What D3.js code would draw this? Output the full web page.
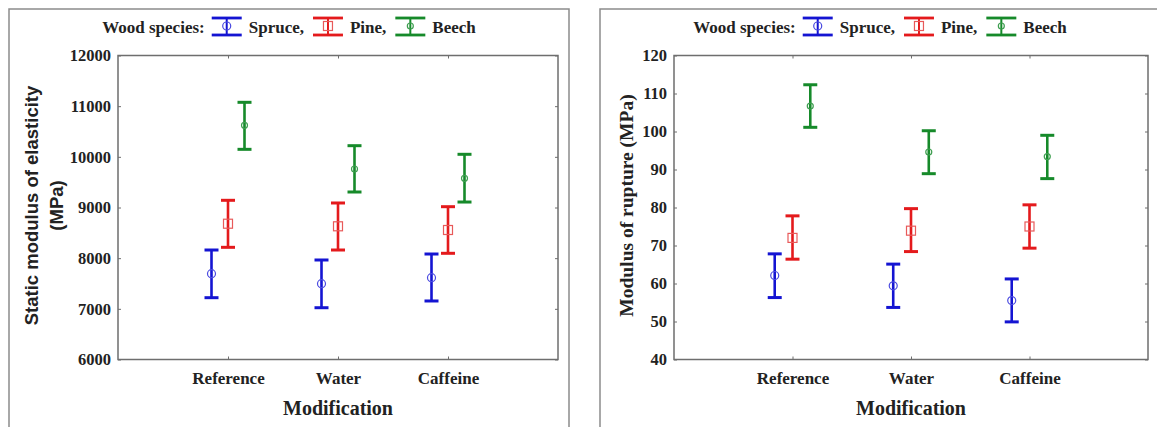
<!DOCTYPE html>
<html>
<head>
<meta charset="utf-8">
<script src="https://cdn.jsdelivr.net/npm/d3@7"></script>
<style>
  html, body { margin: 0; padding: 0; background: #fff; }
  svg { display: block; }
</style>
</head>
<body>
<svg id="chart" width="1157" height="427"></svg>
<script>
// Modification treatments and wood species
const categories = ["Reference", "Water", "Caffeine"];
const species = ["Spruce", "Pine", "Beech"];

// Static modulus of elasticity (MPa): mean and confidence limits
const moeMeanSpruce = [7693, 7496, 7615];
const moeMeanPine   = [8680, 8629, 8556];
const moeMeanBeech  = [10622, 9760, 9576];
const moeLowSpruce  = [7220, 7022, 7155];
const moeLowPine    = [8214, 8161, 8096];
const moeLowBeech   = [10148, 9306, 9108];
const moeHighSpruce = [8161, 7964, 8082];
const moeHighPine   = [9142, 9089, 9016];
const moeHighBeech  = [11076, 10220, 10050];
const moeTicks = [6000, 7000, 8000, 9000, 10000, 11000, 12000];

// Modulus of rupture (MPa): mean and confidence limits
const morMeanSpruce = [62.1, 59.4, 55.5];
const morMeanPine   = [72.0, 73.9, 75.0];
const morMeanBeech  = [106.7, 94.6, 93.4];
const morLowSpruce  = [56.3, 53.7, 49.9];
const morLowPine    = [66.4, 68.4, 69.3];
const morLowBeech   = [101.1, 88.9, 87.6];
const morHighSpruce = [67.8, 65.1, 61.2];
const morHighPine   = [77.8, 79.7, 80.7];
const morHighBeech  = [112.3, 100.2, 99.0];
const morTicks = [40, 50, 60, 70, 80, 90, 100, 110, 120];

const colors = { Spruce: "#1414d2", Pine: "#e41a1c", Beech: "#168a2a" };
const markerColors = { Spruce: "#4a4ae0", Pine: "#e85a5a", Beech: "#3e9e50" };
const offsets = { Spruce: -0.15, Pine: 0, Beech: 0.15 };

const serif = "'Palatino Linotype', 'Book Antiqua', Palatino, 'Liberation Serif', serif";
const sans = "'Liberation Sans', Arial, sans-serif";

function rows(means, lows, highs) {
  return species.flatMap((s, si) => categories.map((c, ci) => ({
    species: s, category: c,
    mean: means[si][ci], low: lows[si][ci], high: highs[si][ci]
  })));
}

const panels = [
  {
    frame: { x0: 9, x1: 569, y0: 9 },
    plot: { left: 118, right: 558, top: 55.5, bottom: 359.5 },
    domain: [6000, 12000], ticks: moeTicks,
    data: rows([moeMeanSpruce, moeMeanPine, moeMeanBeech],
               [moeLowSpruce, moeLowPine, moeLowBeech],
               [moeHighSpruce, moeHighPine, moeHighBeech]),
    title: ["Static modulus of elasticity", "(MPa)"], titleFont: sans, titleSize: 18.5,
    titleX: [31, 56], legendCentre: 289
  },
  {
    frame: { x0: 600, x1: 1170, y0: 9 },
    plot: { left: 674, right: 1148, top: 55.5, bottom: 359.5 },
    domain: [40, 120], ticks: morTicks,
    data: rows([morMeanSpruce, morMeanPine, morMeanBeech],
               [morLowSpruce, morLowPine, morLowBeech],
               [morHighSpruce, morHighPine, morHighBeech]),
    title: ["Modulus of rupture (MPa)"], titleFont: serif, titleSize: 19.5,
    titleX: [626], legendCentre: 880
  }
];

const svg = d3.select("#chart");
svg.append("rect").attr("width", 1157).attr("height", 427).attr("fill", "#fff");

function drawMarker(g, s, x, y) {
  const col = markerColors[s];
  if (s === "Spruce") {
    g.append("circle").attr("cx", x).attr("cy", y).attr("r", 4)
      .attr("fill", "none").attr("stroke", col).attr("stroke-width", 1.2);
  } else if (s === "Pine") {
    g.append("rect").attr("x", x - 4.5).attr("y", y - 4.5).attr("width", 9).attr("height", 9)
      .attr("fill", "none").attr("stroke", col).attr("stroke-width", 1.2);
  } else {
    g.append("circle").attr("cx", x).attr("cy", y).attr("r", 3)
      .attr("fill", "none").attr("stroke", col).attr("stroke-width", 1.2);
  }
}

panels.forEach(p => {
  const g = svg.append("g");
  const { left, right, top, bottom } = p.plot;

  // outer frame (open at the bottom / right edge of the page)
  g.append("path")
    .attr("d", `M${p.frame.x0},440V${p.frame.y0}H${p.frame.x1}V440`)
    .attr("fill", "none").attr("stroke", "#8c8c8c").attr("stroke-width", 1.5);

  const x = d3.scalePoint().domain(categories).range([left, right]).padding(1);
  const y = d3.scaleLinear().domain(p.domain).range([bottom, top]);
  const step = x.step();

  // plot box
  g.append("rect").attr("x", left).attr("y", top)
    .attr("width", right - left).attr("height", bottom - top)
    .attr("fill", "none").attr("stroke", "#6e6e6e").attr("stroke-width", 1.5);

  // axes with inward ticks
  const axisStyle = sel => {
    sel.select(".domain").remove();
    sel.selectAll(".tick line").attr("stroke", "#6e6e6e").attr("stroke-width", 1);
  };
  g.append("g").attr("transform", `translate(0,${bottom})`)
    .call(d3.axisBottom(x).tickSizeInner(-3).tickSizeOuter(0).tickPadding(12))
    .call(axisStyle)
    .call(a => a.selectAll("text").attr("font-family", serif).attr("font-weight", "bold")
      .attr("font-size", 17).attr("fill", "#222"));
  g.append("g").attr("transform", `translate(0,${top})`)
    .call(d3.axisTop(x).tickSizeInner(-3).tickSizeOuter(0).tickFormat(""))
    .call(axisStyle);
  g.append("g").attr("transform", `translate(${left},0)`)
    .call(d3.axisLeft(y).tickValues(p.ticks).tickFormat(d3.format("d"))
      .tickSizeInner(-3).tickSizeOuter(0).tickPadding(7))
    .call(axisStyle)
    .call(a => a.selectAll("text").attr("font-family", serif).attr("font-weight", "bold")
      .attr("font-size", 16.5).attr("fill", "#222"));
  g.append("g").attr("transform", `translate(${right},0)`)
    .call(d3.axisRight(y).tickValues(p.ticks).tickSizeInner(-3).tickSizeOuter(0).tickFormat(""))
    .call(axisStyle);

  // x axis title
  g.append("text").attr("x", (left + right) / 2).attr("y", 408)
    .attr("text-anchor", "middle").attr("dominant-baseline", "central")
    .attr("font-family", serif).attr("font-weight", "bold").attr("font-size", 20)
    .attr("fill", "#222").text("Modification");

  // y axis title
  const cy = (top + bottom) / 2 - 2;
  p.title.forEach((t, i) => {
    g.append("text")
      .attr("transform", `translate(${p.titleX[i]},${cy}) rotate(-90)`)
      .attr("text-anchor", "middle").attr("dominant-baseline", "central")
      .attr("font-family", p.titleFont).attr("font-weight", "bold")
      .attr("font-size", p.titleSize).attr("fill", "#222").text(t);
  });

  // error bars
  const capW = 14;
  p.data.forEach(d => {
    const cx = x(d.category) + offsets[d.species] * step;
    const col = colors[d.species];
    const bg = g.append("g");
    bg.append("line").attr("x1", cx).attr("x2", cx)
      .attr("y1", y(d.high)).attr("y2", y(d.low))
      .attr("stroke", col).attr("stroke-width", 2.6);
    [d.high, d.low].forEach(v => {
      bg.append("line").attr("x1", cx - capW / 2).attr("x2", cx + capW / 2)
        .attr("y1", y(v)).attr("y2", y(v))
        .attr("stroke", col).attr("stroke-width", 3);
    });
    drawMarker(bg, d.species, cx, y(d.mean));
  });

  // legend
  const lg = g.append("g");
  const ly = 27;
  const label = lg.append("text").attr("x", 0).attr("y", ly)
    .attr("dominant-baseline", "central")
    .attr("font-family", serif).attr("font-weight", "bold").attr("font-size", 17)
    .attr("fill", "#222").text("Wood species:");
  let cursor = label.node().getComputedTextLength() + 7;
  species.forEach((s, i) => {
    const sg = lg.append("g");
    const sx = cursor, sw = 30;
    sg.append("line").attr("x1", sx).attr("x2", sx + sw).attr("y1", ly - 9).attr("y2", ly - 9)
      .attr("stroke", colors[s]).attr("stroke-width", 2.8);
    sg.append("line").attr("x1", sx).attr("x2", sx + sw).attr("y1", ly + 8).attr("y2", ly + 8)
      .attr("stroke", colors[s]).attr("stroke-width", 2.8);
    sg.append("line").attr("x1", sx + sw / 2).attr("x2", sx + sw / 2).attr("y1", ly - 9).attr("y2", ly + 8)
      .attr("stroke", colors[s]).attr("stroke-width", 2);
    drawMarker(sg, s, sx + sw / 2, ly - 1);
    cursor += sw + 7;
    const t = lg.append("text").attr("x", cursor).attr("y", ly)
      .attr("dominant-baseline", "central")
      .attr("font-family", serif).attr("font-weight", "bold").attr("font-size", 17)
      .attr("fill", "#222").text(s + (i < species.length - 1 ? "," : ""));
    cursor += t.node().getComputedTextLength() + 9;
  });
  const lw = cursor - 9;
  lg.attr("transform", `translate(${p.legendCentre - lw / 2},0)`);
});
</script>
</body>
</html>
